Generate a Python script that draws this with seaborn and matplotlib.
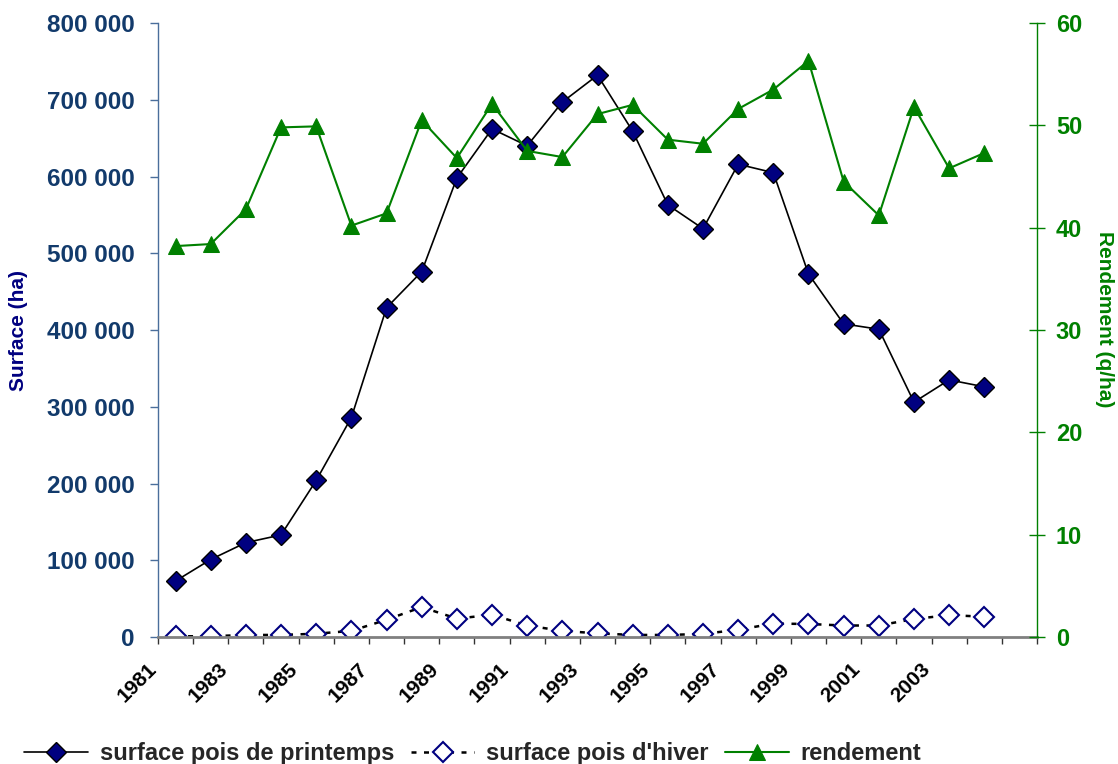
import numpy as np
import pandas as pd
import seaborn as sns
import matplotlib.pyplot as plt

# Data
years = list(range(1981, 2005))
surface_printemps = [73000, 101000, 123000, 133000, 204000, 286000, 429000, 476000,
                     598000, 662000, 640000, 697000, 732000, 659000, 563000, 532000,
                     616000, 605000, 473000, 408000, 401000, 306000, 335000, 326000]
surface_hiver = [1000, 1000, 2700, 2700, 4300, 8000, 22500, 39000,
                 24000, 29000, 15000, 8000, 4800, 2700, 2700, 4000,
                 9500, 17500, 17000, 15000, 15000, 23500, 28500, 26500]
rendement = [38.2, 38.4, 41.8, 49.8, 49.9, 40.2, 41.4, 50.5,
             46.8, 52.1, 47.5, 46.9, 51.1, 52.0, 48.6, 48.2,
             51.6, 53.5, 56.3, 44.5, 41.2, 51.8, 45.8, 47.3]
x_labels = [str(y) for y in range(1981, 2004, 2)]
left_ticks = list(range(0, 800001, 100000))
right_ticks = list(range(0, 61, 10))

df = pd.DataFrame({
    "idx": np.arange(len(years)),
    "annee": years,
    "printemps": surface_printemps,
    "hiver": surface_hiver,
    "rendement": rendement,
})

sns.set_style("white")
plt.rcParams['font.family'] = ['Liberation Sans', 'DejaVu Sans']
plt.rcParams['font.weight'] = 'bold'

fig = plt.figure(figsize=(11.18, 7.64), dpi=100)
ax = fig.add_axes([0.1413, 0.1662, 0.7863, 0.8037])
ax2 = ax.twinx()

# left axis series
sns.lineplot(data=df, x="idx", y="printemps", ax=ax, color="black", linewidth=1.2,
             marker="D", markersize=10, markerfacecolor="#000080",
             markeredgecolor="black", markeredgewidth=1.0)
sns.lineplot(data=df, x="idx", y="hiver", ax=ax, color="black", linewidth=1.8,
             linestyle=(0, (2, 3)), marker="D", markersize=10,
             markerfacecolor="white", markeredgecolor="#000080", markeredgewidth=1.5)
# right axis series
sns.lineplot(data=df, x="idx", y="rendement", ax=ax2, color="#008000", linewidth=1.5,
             marker="^", markersize=12, markerfacecolor="#008000",
             markeredgecolor="#008000")

ax.set_xlim(-0.5, 24.5)
ax.set_ylim(0, 800000)
ax2.set_ylim(0, 60)

# x ticks at category boundaries, label every other year
bounds = np.arange(-0.5, 25, 1)
ax.set_xticks(bounds)
lab = []
for k in range(len(bounds)):
    if k % 2 == 0 and k // 2 < len(x_labels):
        lab.append(x_labels[k // 2])
    else:
        lab.append("")
ax.set_xticklabels(lab, rotation=45, ha="right", va="baseline", rotation_mode="anchor",
                   fontsize=15, fontweight="bold", color="black")
ax.tick_params(axis="x", direction="out", length=5, width=1, color="#333333", pad=19,
               bottom=True)

ax.set_yticks(left_ticks)
ax.set_yticklabels([f"{v:,}".replace(",", " ") for v in left_ticks],
                   fontsize=17.5, fontweight="bold", color="#123a6b")
ax.tick_params(axis="y", direction="out", length=6, width=1, color="#4a6e9b", pad=11,
               left=True)

ax2.set_yticks(right_ticks)
ax2.set_yticklabels([str(v) for v in right_ticks], fontsize=17, fontweight="bold",
                    color="#008000")
ax2.tick_params(axis="y", direction="inout", length=11, width=1, color="#008000",
                pad=8, right=True)

ax.set_xlabel("")
ax.set_ylabel("Surface (ha)", fontsize=15, fontweight="bold", color="#000080")
ax.yaxis.label.set_ha("center")
ax.yaxis.label.set_va("center")
ax.yaxis.set_label_coords(-0.159, 0.5)
ax2.set_ylabel("Rendement (q/ha)", fontsize=15, fontweight="bold", color="#008000",
               rotation=270)
ax2.yaxis.label.set_ha("center")
ax2.yaxis.label.set_va("center")
ax2.yaxis.set_label_coords(1.077, 0.518)

for a in (ax, ax2):
    a.spines["top"].set_visible(False)
ax.spines["right"].set_visible(False)
ax2.spines["left"].set_visible(False)
ax2.spines["bottom"].set_visible(False)
ax.spines["left"].set_color("#4a6e9b")
ax.spines["left"].set_linewidth(1)
ax.spines["bottom"].set_color("#808080")
ax.spines["bottom"].set_linewidth(2)
ax2.spines["right"].set_color("#008000")
ax2.spines["right"].set_linewidth(1)
ax.grid(False)
ax2.grid(False)

handles = [ax.get_lines()[0], ax.get_lines()[1], ax2.get_lines()[0]]
labels = ["surface pois de printemps", "surface pois d'hiver", "rendement"]
leg = fig.legend(handles, labels, loc="center", bbox_to_anchor=(0.423, 0.014), ncol=3,
                 frameon=False, handlelength=2.7, handletextpad=0.5, columnspacing=0.7,
                 prop={"size": 17, "weight": "bold"})

fig.savefig("out.png", dpi=100)
